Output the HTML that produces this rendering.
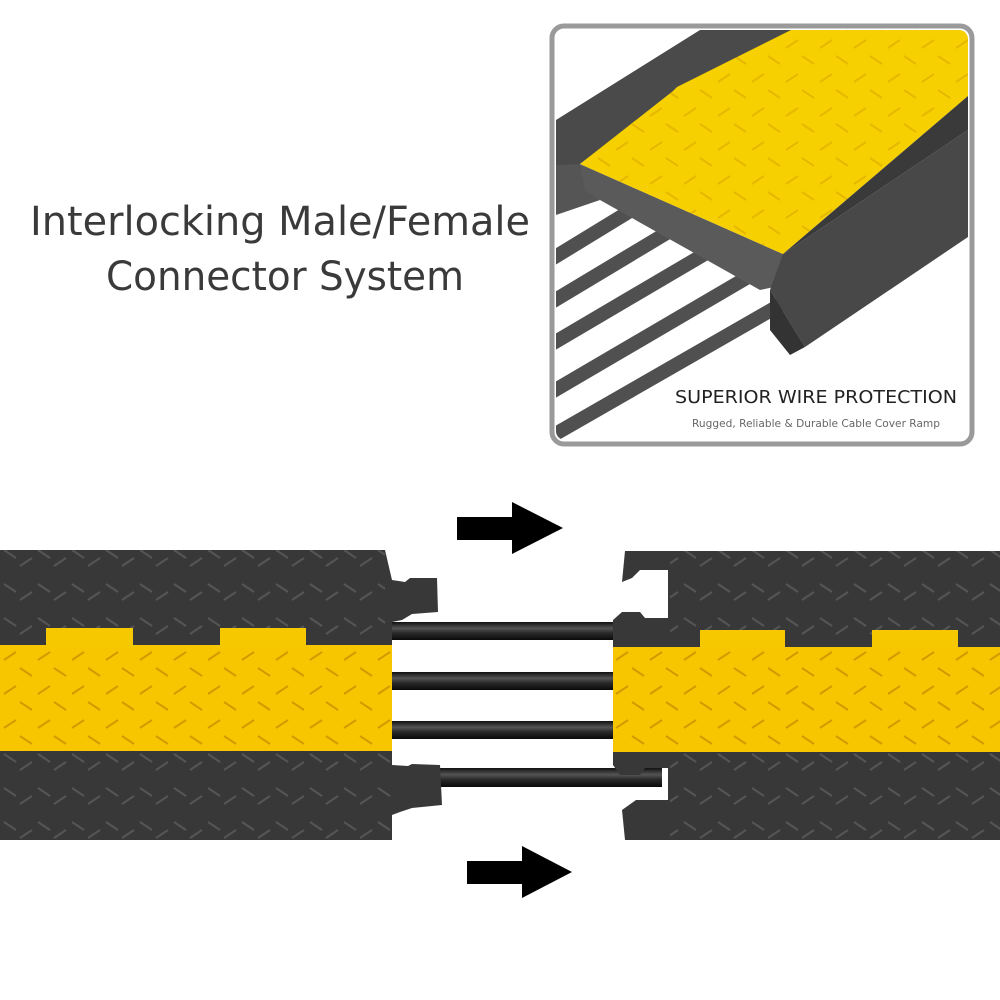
<!DOCTYPE html>
<html><head><meta charset="utf-8"><style>
html,body{margin:0;padding:0;background:#fff;}
svg{display:block}
</style></head><body>
<svg width="1000" height="1000" viewBox="0 0 1000 1000" xmlns="http://www.w3.org/2000/svg">
<defs>
<linearGradient id="cab" x1="0" y1="0" x2="0" y2="1">
<stop offset="0" stop-color="#111"/><stop offset="0.35" stop-color="#555"/><stop offset="0.6" stop-color="#2a2a2a"/><stop offset="1" stop-color="#0a0a0a"/>
</linearGradient>
<pattern id="tread" width="34" height="34" patternUnits="userSpaceOnUse">
<path d="M4 6 L16 14 M20 22 L32 14" stroke="#555" stroke-width="2"/>
</pattern>
<pattern id="ytread" width="34" height="34" patternUnits="userSpaceOnUse">
<path d="M4 14 L16 6 M20 22 L32 30" stroke="#d49a00" stroke-width="2"/>
</pattern>
</defs>

<text x="30" y="235" textLength="500" lengthAdjust="spacingAndGlyphs" font-family="DejaVu Sans, sans-serif" font-size="40" fill="#3a3a3a">Interlocking Male/Female</text>
<text x="106" y="290" textLength="358" lengthAdjust="spacingAndGlyphs" font-family="DejaVu Sans, sans-serif" font-size="40" fill="#3a3a3a">Connector System</text>

<!-- inset -->
<rect x="552" y="26" width="420" height="418" rx="12" fill="#fff" stroke="#9a9a9a" stroke-width="5"/>
<clipPath id="ic"><rect x="556" y="30" width="412" height="410" rx="9"/></clipPath>
<g clip-path="url(#ic)">
  <polygon points="556,120 700,30 800,30 676,92 580,164 556,175" fill="#4a4a4a"/>
  <polygon points="556,165 580,164 600,200 556,215" fill="#555"/>
  <g stroke="#505050" stroke-width="14" stroke-linecap="round">
    <line x1="550" y1="260" x2="640" y2="205"/>
    <line x1="550" y1="303" x2="680" y2="225"/>
    <line x1="550" y1="345" x2="720" y2="245"/>
    <line x1="550" y1="393" x2="760" y2="270"/>
    <line x1="550" y1="437" x2="780" y2="305"/>
  </g>
  <polygon points="580,164 783,254 783,285 760,290 600,200 585,190" fill="#5a5a5a"/>
  <polygon points="580,164 673,91 677,87 793,29 968,29 968,96 783,254" fill="#f6d000"/>
  <polygon points="580,164 673,91 677,87 793,29 968,29 968,96 783,254" fill="url(#ytread)" opacity="0.45"/>
  <polygon points="783,254 968,130 968,237 805,347 770,290" fill="#484848"/>
  <polygon points="783,254 968,96 968,130 783,254" fill="#3a3a3a"/>
  <polygon points="770,290 805,347 790,355 770,330" fill="#333"/>
  <text x="816" y="403" text-anchor="middle" font-family="DejaVu Sans, sans-serif" textLength="282" lengthAdjust="spacingAndGlyphs" font-size="18" fill="#222">SUPERIOR WIRE PROTECTION</text>
  <text x="816" y="427" text-anchor="middle" font-family="DejaVu Sans, sans-serif" textLength="248" lengthAdjust="spacingAndGlyphs" font-size="10.5" fill="#666">Rugged, Reliable &amp; Durable Cable Cover Ramp</text>
</g>

<!-- arrows -->
<polygon points="457,517 512,517 512,502 563,528 512,554 512,540 457,540" fill="#000"/>
<polygon points="467,861 522,861 522,846 572,872 522,898 522,884 467,884" fill="#000"/>

<!-- cables -->
<rect x="390" y="622" width="228" height="18" fill="url(#cab)"/>
<rect x="390" y="672" width="228" height="18" fill="url(#cab)"/>
<rect x="390" y="721" width="228" height="18" fill="url(#cab)"/>
<rect x="440" y="768" width="222" height="19" fill="url(#cab)"/>

<!-- left piece -->
<path d="M0 550 L385 550 L392 580 L405 582 L410 578 L437 578 L438 612 L412 614 L402 620 L392 622 L392 647 L0 647 Z" fill="#383838"/>
<path d="M0 750 L392 750 L392 765 L408 766 L412 764 L440 765 L442 805 L412 808 L400 812 L392 815 L392 840 L0 840 Z" fill="#383838"/>
<rect x="0" y="550" width="385" height="97" fill="url(#tread)"/>
<rect x="0" y="750" width="392" height="90" fill="url(#tread)"/>
<rect x="0" y="645" width="392" height="106" fill="#f7c600"/>
<rect x="0" y="645" width="392" height="106" fill="url(#ytread)"/>
<rect x="46" y="628" width="87" height="20" fill="#f5c800"/>
<rect x="220" y="628" width="86" height="20" fill="#f5c800"/>

<!-- right piece -->
<path d="M625 551 L1000 551 L1000 647 L613 647 L613 620 L622 612 L640 612 L645 618 L668 618 L668 570 L640 570 L632 578 L622 582 Z" fill="#383838"/>
<path d="M613 750 L1000 750 L1000 840 L625 840 L622 810 L636 800 L668 800 L668 768 L645 768 L640 775 L620 775 L613 765 Z" fill="#383838"/>
<rect x="670" y="551" width="330" height="96" fill="url(#tread)"/>
<rect x="670" y="752" width="330" height="88" fill="url(#tread)"/>
<rect x="613" y="647" width="387" height="105" fill="#f7c600"/>
<rect x="613" y="647" width="387" height="105" fill="url(#ytread)"/>
<rect x="700" y="630" width="85" height="18" fill="#f5c800"/>
<rect x="872" y="630" width="86" height="18" fill="#f5c800"/>
</svg>
</body></html>
